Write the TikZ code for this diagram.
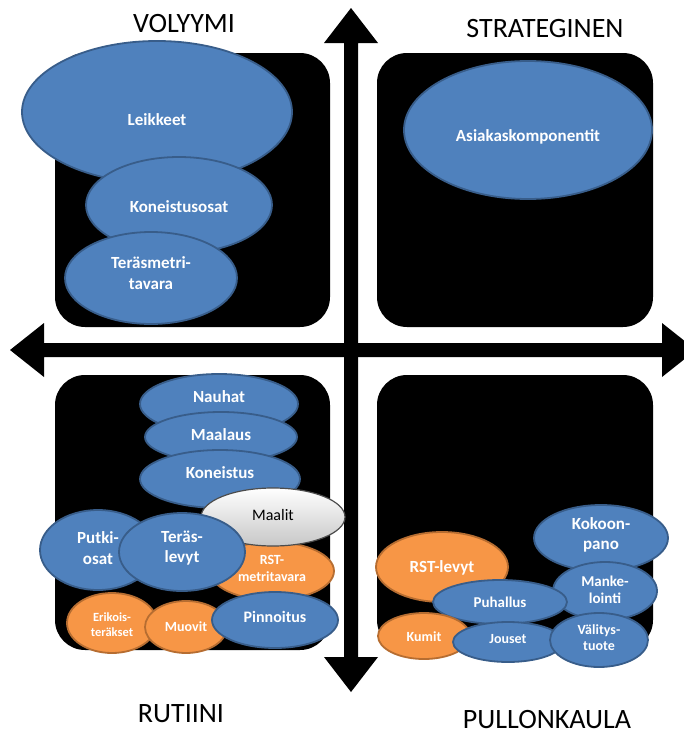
\documentclass[tikz,border=0pt]{standalone}
\usepackage{fontspec}
\setmainfont{Carlito}
\usetikzlibrary{shapes.geometric}

\definecolor{blobblue}{HTML}{4F81BD}
\definecolor{blobblueline}{HTML}{385D8A}
\definecolor{bloborange}{HTML}{F79646}
\definecolor{bloborangeline}{HTML}{B66D31}

\tikzset{
  quad/.style={fill=black, rounded corners=30pt},
  blob/.style={ellipse, draw=blobblueline, fill=blobblue, line width=1.8pt, inner sep=0pt},
  oblob/.style={blob, draw=bloborangeline, fill=bloborange},
  gblob/.style={ellipse, draw=black!70, top color=white, bottom color=black!22,
    line width=1.2pt, inner sep=0pt},
  wtxt/.style={text=white, align=center, inner sep=0pt},
  t16/.style={wtxt, font=\bfseries\fontsize{17}{20.5}\selectfont},
  t15/.style={wtxt, font=\bfseries\fontsize{16}{19}\selectfont},
  t14/.style={wtxt, font=\bfseries\fontsize{15}{16.5}\selectfont},
  t13/.style={wtxt, font=\bfseries\fontsize{14}{16.5}\selectfont},
  t12/.style={wtxt, font=\bfseries\fontsize{12.5}{15}\selectfont},
  k15/.style={text=black, align=center, inner sep=0pt, font=\fontsize{16}{18}\selectfont},
  axislabel/.style={text=black, inner sep=0pt, font=\fontsize{28}{32}\selectfont},
}

% \itemoval{shape style}{name}{centre}{x radius}{y radius}{text drop}{text style}{text}
\newcommand\itemoval[8]{%
  \node[#1, minimum width=2*#4pt, minimum height=2*#5pt] (#2) at (#3) {};
  \node[#7] (#2-t) at ([yshift={-(#6)*1pt}]#2.center) {#8};%
}

\begin{document}
\begin{tikzpicture}[x=1pt, y=-1pt]
  \useasboundingbox (0,0) rectangle (684,736);

  % the two crossing double-headed axes
  \fill (344,43) -- (324,43) -- (351,8) -- (378,43) -- (358,43)
        -- (358,657) -- (378,657) -- (351,692) -- (324,657) -- (344,657) -- cycle;
  \fill (44,343) -- (662,343) -- (662,323) -- (696,350) -- (662,377) -- (662,357)
        -- (44,357) -- (44,377) -- (10,350) -- (44,323) -- cycle;

  % four quadrant panels
  \fill[quad] (55,53) rectangle (330,327);
  \fill[quad] (377,53) rectangle (653,327);
  \fill[quad] (55,375) rectangle (330,650);
  \fill[quad] (377,375) rectangle (653,650);

  % quadrant captions
  \node[axislabel] (volyymi) at (184,24) {VOLYYMI};
  \node[axislabel] (strateginen) at (545,28.5) {STRATEGINEN};
  \node[axislabel] (rutiini) at (181,714) {RUTIINI};
  \node[axislabel] (pullonkaula) at (547,720) {PULLONKAULA};

  % upper left: volume items
  \itemoval{blob}{leikkeet}{157,112}{135}{71}{8}{t16}{Leikkeet}
  \itemoval{blob}{koneistusosat}{179,205}{93}{48}{2}{t16}{Koneistusosat}
  \itemoval{blob}{terasmetri}{151,278}{86}{46}{-5}{t16}{Teräsmetri-\\tavara}

  % upper right: strategic items
  \itemoval{blob}{asiakas}{528,130}{124}{69}{7}{t16}{Asiakaskomponentit}

  % lower left: routine items
  \itemoval{blob}{nauhat}{219,404}{79}{30}{-7}{t16}{Nauhat}
  \itemoval{blob}{maalaus}{221,437}{76}{25}{-2}{t16}{Maalaus}
  \itemoval{blob}{koneistus}{220,479}{80}{29}{-6}{t16}{Koneistus}
  \itemoval{oblob}{rstmetri}{272,571}{62}{29}{-2.5}{t13}{RST-\\metritavara}
  \itemoval{gblob}{maalit}{273,517}{72}{29}{-2}{k15}{Maalit}
  \itemoval{blob}{putki}{98,550}{58}{40}{-2}{t16}{Putki-\\osat}
  \itemoval{blob}{teraslevyt}{182,552}{63}{39}{-4}{t16}{Teräs-\\levyt}
  \itemoval{oblob}{erikois}{112,623}{45}{30}{1.5}{t12}{Erikois-\\teräkset}
  \itemoval{oblob}{muovit}{186,627}{41}{26}{0}{t13}{Muovit}
  \itemoval{blob}{pinnoitus}{275,620}{63}{28}{-3}{t15}{Pinnoitus}

  % lower right: bottleneck items
  \itemoval{oblob}{rstlevyt}{442,567}{66}{35}{1}{t16}{RST-levyt}
  \itemoval{blob}{kokoonpano}{601,538}{67}{33}{-3}{t16}{Kokoon-\\pano}
  \itemoval{blob}{mankelointi}{605,591}{52}{29}{-1}{t14}{Manke-\\lointi}
  \itemoval{blob}{puhallus}{500,602}{67}{22}{0}{t14}{Puhallus}
  \itemoval{oblob}{kumit}{424,636}{46}{23}{1}{t13}{Kumit}
  \itemoval{blob}{jouset}{508,642}{55}{20}{-3}{t13}{Jouset}
  \itemoval{blob}{valitys}{599,640}{49}{27}{-2.5}{t13}{Välitys-\\tuote}
\end{tikzpicture}
\end{document}
